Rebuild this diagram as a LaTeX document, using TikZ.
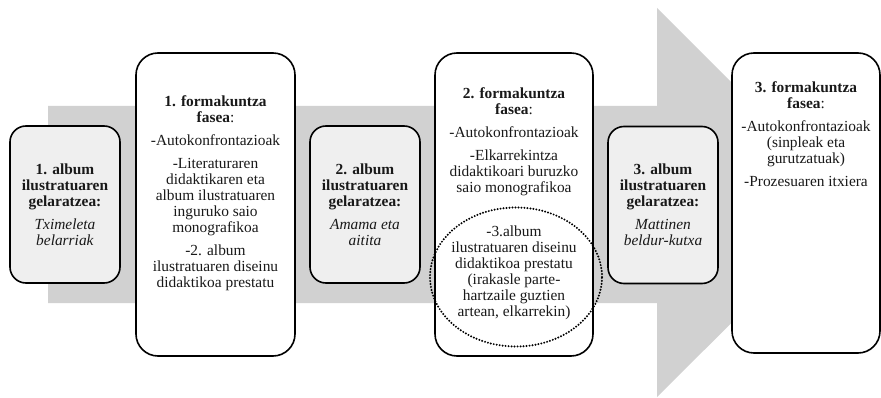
\documentclass[tikz,border=0pt]{standalone}
\usepackage{fontspec}
\setmainfont{Liberation Serif}
\usetikzlibrary{positioning,shapes.geometric}
\definecolor{carrow}{HTML}{D1D1D1}
\definecolor{cgel}{HTML}{EFEFEF}

\begin{document}
\begin{tikzpicture}[x=1pt,y=-1pt,
    gel/.style={draw,line width=1.6pt,rounded corners=16pt,fill=cgel,minimum width=110pt,minimum height=157pt,
                align=center,text=black!90,font=\fontsize{15.4}{16}\selectfont},
    fase/.style={draw,line width=1.6pt,rounded corners=22pt,fill=white,minimum width=159pt,minimum height=303pt,inner sep=0pt},
    txt/.style={align=center,inner sep=0pt,text=black!90,font=\fontsize{15.4}{16}\selectfont},
    ring/.style={draw,ellipse,line width=2.2pt,line cap=round,dash pattern=on 0pt off 3pt,
                 minimum width=172pt,minimum height=139pt,inner sep=0pt}]
    \useasboundingbox (0,0) rectangle (881,398);
    \fill[carrow] (48,106) -- (657,106) -- (657,8) -- (852,203) -- (657,397) -- (657,303) -- (48,303) -- cycle;

    \node[gel] (g1) at (65,204.5) {\textbf{1. album}\\\textbf{ilustratuaren}\\\textbf{gelaratzea:}\\[7pt]\textit{Tximeleta}\\\textit{belarriak}};
    \node[fase] (f1) at (215.5,204.5) {};
    \node[txt,below=43pt of f1.north] (f1t) {\textbf{1. formakuntza}\\\textbf{fasea}:\\[7pt]-Autokonfrontazioak\\[7pt]-Literaturaren\\didaktikaren eta\\album ilustratuaren\\inguruko saio\\monografikoa\\[7pt]-2. album\\ilustratuaren diseinu\\didaktikoa prestatu};

    \node[gel] (g2) at (365,204.5) {\textbf{2. album}\\\textbf{ilustratuaren}\\\textbf{gelaratzea:}\\[7pt]\textit{Amama eta}\\\textit{aitita}};
    \node[fase,minimum width=158pt] (f2) at (514,204.5) {};
    \node[txt,below=35pt of f2.north] (f2t) {\textbf{2. formakuntza}\\\textbf{fasea}:\\[7pt]-Autokonfrontazioak\\[7pt]-Elkarrekintza\\didaktikoari buruzko\\saio monografikoa};
    \node[ring] (el) at (516,277) {};
    \node[txt] (elt) at (514,273) {-3.album\\ilustratuaren diseinu\\didaktikoa prestatu\\(irakasle parte-\\hartzaile guztien\\artean, elkarrekin)};

    \node[gel] (g3) at (663,205) {\textbf{3. album}\\\textbf{ilustratuaren}\\\textbf{gelaratzea:}\\[7pt]\textit{Mattinen}\\\textit{beldur-kutxa}};
    \node[fase,minimum width=148pt,minimum height=300pt] (f3) at (806,203) {};
    \node[txt,below=29pt of f3.north] (f3t) {\textbf{3. formakuntza}\\\textbf{fasea}:\\[7pt]-Autokonfrontazioak\\(sinpleak eta\\gurutzatuak)\\[7pt]-Prozesuaren itxiera};
\end{tikzpicture}
\end{document}
